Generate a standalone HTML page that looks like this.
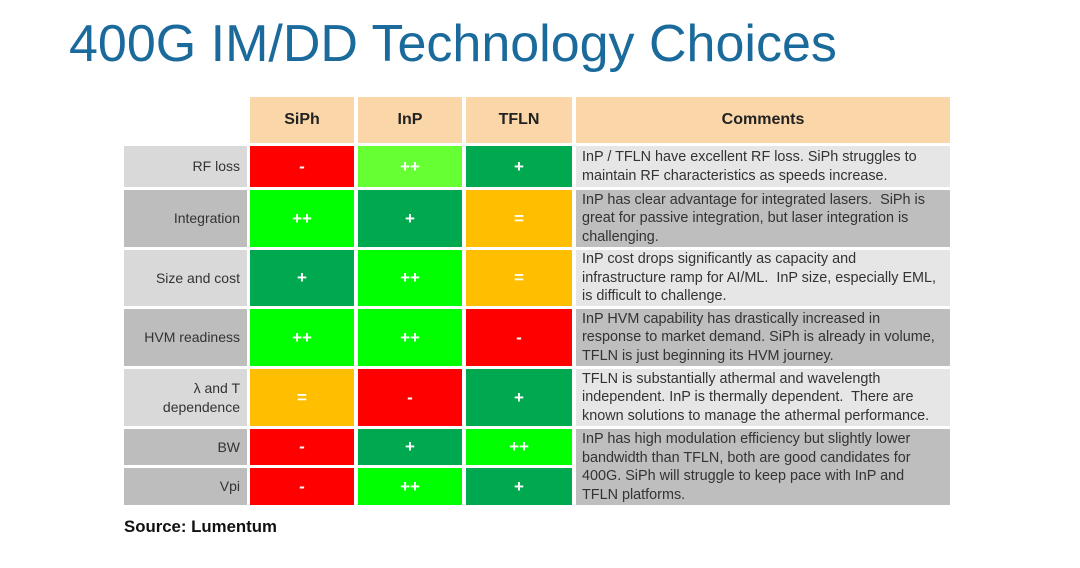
<!DOCTYPE html>
<html><head><meta charset="utf-8"><style>
body{margin:0;width:1080px;height:568px;background:#fff;position:relative;overflow:hidden;font-family:"Liberation Sans",sans-serif}
.c{position:absolute;box-sizing:border-box}
.h{background:#fad6a8;color:#222;font-weight:bold;font-size:16px;display:flex;align-items:center;justify-content:center}
.lab{color:#333;font-size:14px;display:flex;align-items:center;justify-content:flex-end;text-align:right;padding-right:7px;line-height:19px}
.v{color:#fff;font-weight:bold;font-size:17px;display:flex;align-items:center;justify-content:center}
.cm{color:#333;font-size:14.4px;line-height:18.5px;padding:3px 13px 3px 6px;display:flex;align-items:center}
</style></head><body>
<div class="c" style="left:69px;top:14px;font-size:52px;color:#1b6a9c;white-space:nowrap">400G IM/DD Technology Choices</div>
<div id="tbl"></div>
<div class="c" style="left:124px;top:517px;font-size:16.8px;font-weight:bold;color:#111">Source: Lumentum</div>
<script>
const headers=["SiPh","InP","TFLN","Comments"];
const rowLabels=["RF loss","Integration","Size and cost","HVM readiness","λ and T<br>dependence","BW","Vpi"];
const siphVals=["-","++","+","++","=","-","-"];
const inpVals=["++","+","++","++","-","+","++"];
const tflnVals=["+","=","=","-","+","++","+"];
const comments=["InP / TFLN have excellent RF loss. SiPh struggles to maintain RF characteristics as speeds increase.",
"InP has clear advantage for integrated lasers.&nbsp; SiPh is great for passive integration, but laser integration is challenging.",
"InP cost drops significantly as capacity and infrastructure ramp for AI/ML.&nbsp; InP size, especially EML, is difficult to challenge.",
"InP HVM capability has drastically increased in response to market demand. SiPh is already in volume, TFLN is just beginning its HVM journey.",
"TFLN is substantially athermal and wavelength independent. InP is thermally dependent.&nbsp; There are known solutions to manage the athermal performance.",
"InP has high modulation efficiency but slightly lower bandwidth than TFLN, both are good candidates for 400G. SiPh will struggle to keep pace with InP and TFLN platforms."];
const rowTops=[146,190,250,309,369,429,468];
const rowBots=[187,247,306,366,426,465,505];
const colX=[[250,354],[358,462],[466,572]];
const colors={"-":"#fe0000","=":"#ffbe00","+":"#00a84f","++":"#00ff00"};
const tbl=document.getElementById('tbl');
function mk(cls,x,y,w,h,html,bg){const d=document.createElement('div');d.className='c '+cls;d.style.left=x+'px';d.style.top=y+'px';d.style.width=w+'px';d.style.height=h+'px';if(bg)d.style.background=bg;d.innerHTML=html;tbl.appendChild(d);return d;}
const hx=[[250,354],[358,462],[466,572],[576,950]];
headers.forEach((t,i)=>{const d=mk('h',hx[i][0],97,hx[i][1]-hx[i][0],46,t);

});
const vals=[siphVals,inpVals,tflnVals];
rowLabels.forEach((l,r)=>{const dark=r%2==1||r==6;const y=rowTops[r],h=rowBots[r]-y;
const d=mk('lab',124,y,123,h,l,dark?'#bdbdbd':'#d9d9d9');


vals.forEach((arr,c)=>{let v=arr[r];let bg=colors[v];if(r==0&&c==1)bg='#66ff33';
const e=mk('v',colX[c][0],y,colX[c][1]-colX[c][0],h,v,bg);

});});
comments.forEach((t,i)=>{const y=rowTops[i],b=i==5?rowBots[6]:rowBots[i];const dark=i%2==1||i==5;
const d=mk('cm',576,y,374,b-y,'<span>'+t+'</span>',dark?'#bebebe':'#e6e6e6');

});
</script>
</body></html>
